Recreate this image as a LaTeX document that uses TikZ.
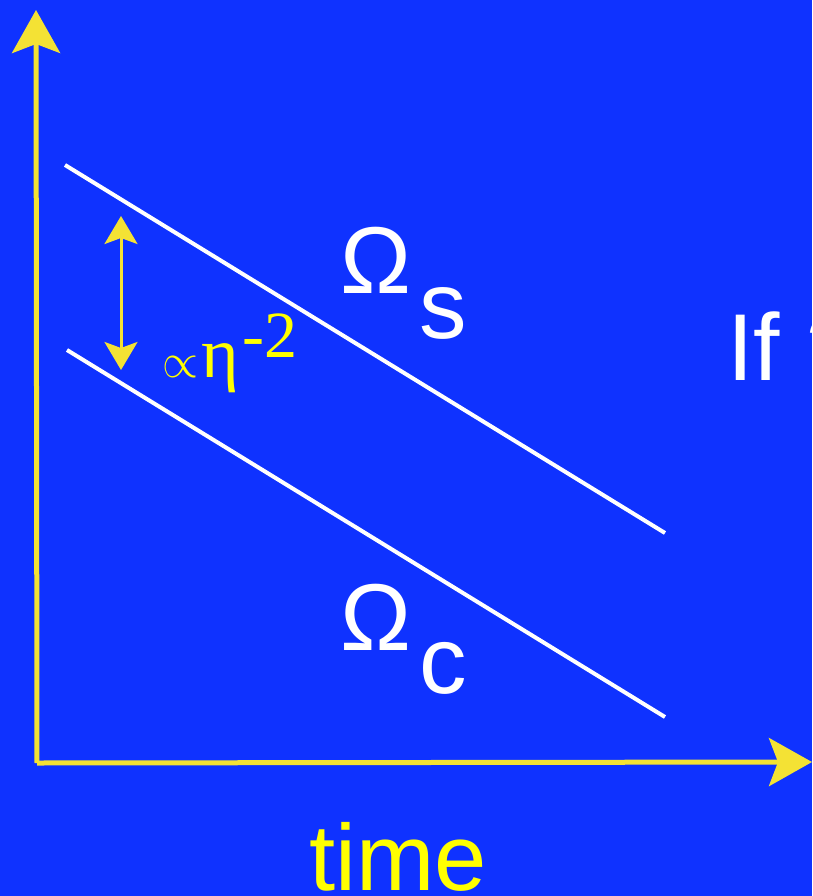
\documentclass[tikz,border=0pt]{standalone}
\usepackage{fontspec}
\usepackage{graphicx}
\setmainfont{Liberation Sans}
\newfontfamily\serifit{Liberation Serif}
\usetikzlibrary{arrows.meta}
\definecolor{bgblue}{RGB}{15,50,255}
\definecolor{axisyellow}{RGB}{244,226,52}
\definecolor{txtyellow}{RGB}{255,255,0}
\tikzset{
  axis/.style={draw=axisyellow, line width=5pt, -{Stealth[length=43pt,width=48pt,inset=9pt]}},
  ruleline/.style={draw=white, line width=4pt},
  gap/.style={draw=axisyellow, line width=3pt, {Stealth[length=28pt,width=33pt,inset=6pt]}-{Stealth[length=28pt,width=33pt,inset=6pt]}},
  big/.style={text=white, font=\fontsize{95}{95}\selectfont, inner sep=0pt, anchor=base west},
  ytext/.style={text=txtyellow, inner sep=0pt, anchor=base west},
}
\begin{document}
\begin{tikzpicture}[x=1pt,y=-1pt]
\fill[bgblue] (0,0) rectangle (812,896);
\useasboundingbox (0,0) rectangle (812,896);
\begin{scope}
\clip (0,0) rectangle (812,896);
\coordinate (O) at (37,763);
\coordinate (ytip) at (36,10);
\coordinate (xtip) at (812,762);
\draw[axis] (O) -- (ytip);
\draw[axis] (O) -- (xtip);
\coordinate (s1) at (65,165);
\coordinate (s2) at (665,533);
\coordinate (c1) at (67,350);
\coordinate (c2) at (665,717);
\draw[ruleline] (s1) -- (s2);
\draw[ruleline] (c1) -- (c2);
\coordinate (g1) at (121,216);
\coordinate (g2) at (121,370);
\draw[gap] (g1) -- (g2);
\node[ytext] (prop) at (162,377) {\resizebox{36pt}{21pt}{$\propto$}};
\node[ytext, font=\serifit\fontsize{72}{72}\selectfont] (eta) at (201,377) {η};
\node[ytext, font=\serifit\fontsize{66}{66}\selectfont] (expo) at (242,357) {-2};
\node[big] (Os) at (340,293) {Ω\hspace{8pt}\raisebox{-45pt}{s}};
\node[big] (Oc) at (340,650) {Ω\hspace{8pt}\raisebox{-43pt}{c}};
\node[big] (If) at (727,380) {If ?};
\node[text=txtyellow, font=\fontsize{94}{94}\selectfont, inner sep=0pt, anchor=base west] (time) at (309,890) {time};
\end{scope}
\end{tikzpicture}
\end{document}
